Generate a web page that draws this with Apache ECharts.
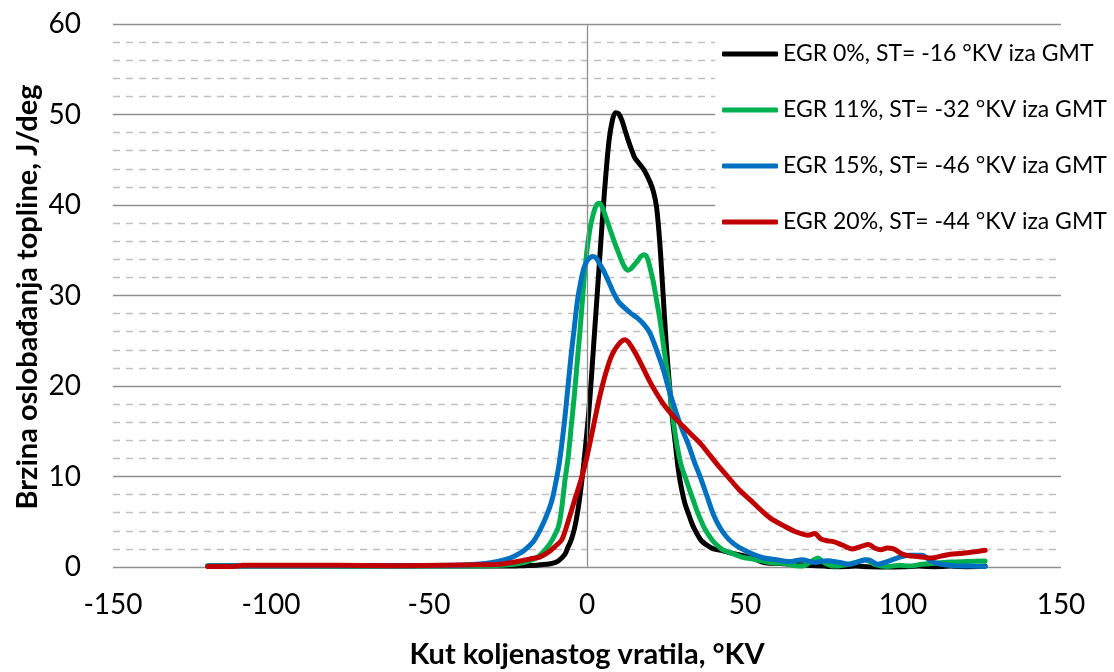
<!DOCTYPE html>
<html>
<head>
<meta charset="utf-8">
<script src="https://cdn.jsdelivr.net/npm/echarts@6/dist/echarts.min.js"></script>
<style>
html,body{margin:0;padding:0;background:#fff;}
#c{width:1114px;height:672px;}
</style>
</head>
<body>
<div id="c"></div>
<script>
// Series names (legend)
const seriesNames = [
  'EGR 0%, ST= -16 °KV iza GMT',
  'EGR 11%, ST= -32 °KV iza GMT',
  'EGR 15%, ST= -46 °KV iza GMT',
  'EGR 20%, ST= -44 °KV iza GMT'
];
const seriesColors = ['#000000', '#00b050', '#0070c0', '#c00000'];

// [crank angle °KV, heat release rate J/deg]
const egr0 = [[-120,0.1],[-100,0.1],[-80,0.1],[-60,0.1],[-40,0.1],[-30,0.1],[-25,0.1],[-20,0.15],[-16,0.2],[-13,0.3],[-11,0.4],[-9,0.7],[-7,1.4],[-6,2.2],[-5,3.0],[-4,4.2],[-3,6.0],[-2,8.5],[-1,11.5],[0,15],[1,19],[2,24],[3,29],[4,34],[5,39],[6,43.5],[7,47.2],[8,49.3],[9,50.2],[10,50.1],[11,49.4],[12,48.3],[13,47.2],[14,46.2],[15,45.3],[16,44.8],[18,43.9],[20,42.5],[21,41.5],[22,39.8],[23,36],[24,30.6],[25,25],[26,20.5],[27,16.5],[28,13.5],[29,10.5],[30,8.5],[31,7],[32,6],[33,5],[34,4.2],[36,3.0],[38,2.4],[40,2.0],[43,1.8],[46,1.5],[50,1.2],[53,0.9],[56,0.5],[60,0.4],[65,0.3],[70,0.2],[75,0.1],[80,0],[85,0.1],[90,0],[95,-0.1],[100,0],[105,0.1],[110,0],[115,0.1],[120,0],[126,0.1]];

const egr11 = [[-120,0.15],[-110,0.15],[-100,0.15],[-80,0.1],[-60,0.1],[-40,0.1],[-30,0.15],[-25,0.25],[-20,0.5],[-16,1.0],[-13,2.0],[-11,3.0],[-9,4.5],[-8,6.5],[-7,9.5],[-6,12],[-5,15.5],[-4,19],[-3,23],[-2,27],[-1,31.5],[0,35],[1,37.5],[2,39],[3,40],[4,40.2],[5,39.6],[6,38.6],[7,37.6],[8,36.6],[9,35.6],[10,34.7],[11,33.8],[12,33.1],[13,32.8],[14,33],[15,33.4],[16,33.8],[17,34.3],[18,34.5],[19,34.2],[20,33],[21,31.5],[22,29.5],[23,27.5],[24,25],[25,22.5],[26,20],[27,17],[28,14.5],[29,12.5],[30,11],[31,10],[32,9],[33,8],[34,7],[35,6],[36,5.2],[37,4.4],[38,3.8],[40,2.8],[43,1.9],[46,1.5],[49,1.1],[52,0.9],[55,0.7],[58,0.5],[62,0.4],[65,0.2],[68,0.1],[71,0.6],[73,1.0],[75,0.5],[78,0.1],[81,0.2],[85,0.5],[88,0.8],[91,0.3],[95,0.05],[99,0.2],[102,0.1],[106,0.3],[110,0.4],[115,0.55],[120,0.6],[126,0.65]];

const egr15 = [[-120,0.1],[-100,0.15],[-80,0.15],[-60,0.15],[-40,0.2],[-35,0.3],[-30,0.5],[-26,0.8],[-23,1.2],[-20,1.8],[-17,2.8],[-15,4],[-13,5.5],[-11,7.5],[-9,11],[-8,13.5],[-7,16.5],[-6,20],[-5,23.5],[-4,26.5],[-3,29.5],[-2,31.5],[-1,33],[0,33.8],[1,34.2],[2,34.3],[3,34.1],[4,33.5],[5,32.9],[6,32.2],[7,31.4],[8,30.6],[9,29.9],[10,29.3],[12,28.6],[14,28],[16,27.5],[18,26.8],[20,25.8],[22,24],[24,22],[26,19.5],[28,17.3],[30,15.3],[32,13.6],[34,11.6],[36,9.8],[38,7.8],[40,5.8],[42,4.4],[44,3.4],[46,2.7],[48,2.2],[52,1.5],[56,1.0],[60,0.8],[64,0.6],[68,0.8],[72,0.5],[76,0.7],[80,0.5],[83,0.3],[86,0.6],[89,0.8],[92,0.3],[95,0.6],[99,1.1],[102,1.3],[106,1.3],[109,0.6],[112,0.3],[116,0.15],[121,0.1],[126,0.05]];

const egr20 = [[-120,0.05],[-112,0.05],[-109,0.2],[-100,0.2],[-80,0.2],[-60,0.15],[-45,0.2],[-35,0.25],[-28,0.3],[-22,0.6],[-18,0.9],[-15,1.1],[-12,1.7],[-10,2.3],[-8,3.0],[-6,5.0],[-4,7.3],[-2,9.5],[0,12.2],[2,15.5],[4,18.8],[6,21.5],[8,23.5],[10,24.6],[12,25.1],[13,24.9],[14,24.4],[16,23.2],[18,21.8],[20,20.4],[22,19.2],[24,18.1],[26,17.2],[28,16.4],[30,15.7],[32,15.0],[34,14.3],[36,13.6],[39,12.3],[42,11],[45,9.8],[48,8.6],[52,7.3],[55,6.3],[58,5.4],[62,4.6],[66,3.9],[70,3.5],[72,3.7],[74,3.1],[76,2.9],[78,2.8],[81,2.4],[84,2.0],[87,2.3],[89,2.5],[91,2.1],[93,1.9],[95,2.1],[97,2.0],[100,1.4],[103,1.2],[106,1.1],[109,1.0],[112,1.2],[115,1.4],[118,1.5],[121,1.6],[124,1.75],[126,1.85]];

const seriesData = [egr0, egr11, egr15, egr20];

const xTitle = 'Kut koljenastog vratila, °KV';
const yTitle = 'Brzina oslobađanja topline, J/deg';

const FONT = 'Lato';
const chart = echarts.init(document.getElementById('c'), null, {renderer: 'canvas'});

const lineSeries = seriesData.map((d, i) => ({
  name: seriesNames[i],
  type: 'line',
  data: d,
  symbol: 'none',
  smooth: 0.3,
  z: 3 + i,
  lineStyle: {color: seriesColors[i], width: 5, cap: 'round', join: 'round'},
  itemStyle: {color: seriesColors[i]},
  emphasis: {disabled: true}
}));

lineSeries.unshift({
  name: 'axis0',
  type: 'line',
  data: [],
  z: 1,
  silent: true,
  markLine: {
    silent: true,
    symbol: 'none',
    label: {show: false},
    lineStyle: {color: '#8f8f8f', width: 1.3, type: 'solid'},
    data: [{xAxis: 0}]
  }
});

chart.setOption({
  animation: false,
  backgroundColor: '#ffffff',
  textStyle: {fontFamily: FONT},
  grid: {left: 113, right: 53, top: 24, bottom: 105, containLabel: false},
  xAxis: {
    type: 'value',
    min: -150, max: 150, interval: 50,
    axisLine: {show: false},
    axisTick: {show: false},
    splitLine: {show: false},
    axisLabel: {color: '#000', fontSize: 28, fontFamily: FONT, margin: 24}
  },
  yAxis: {
    type: 'value',
    min: 0, max: 60, interval: 10,
    axisLine: {show: false},
    axisTick: {show: false},
    axisLabel: {color: '#000', fontSize: 28, fontFamily: FONT, margin: 32},
    splitLine: {show: true, lineStyle: {color: '#8f8f8f', width: 1.3}},
    minorTick: {show: false, splitNumber: 5},
    minorSplitLine: {show: true, lineStyle: {color: '#c0c0c0', width: 1.3, type: [7, 6]}}
  },
  legend: {
    data: seriesNames,
    orient: 'vertical',
    left: 715, top: 30,
    padding: [12, 4, 12, 7],
    backgroundColor: '#ffffff',
    itemWidth: 56, itemHeight: 5,
    itemGap: 32,
    icon: 'roundRect',
    textStyle: {color: '#000', fontSize: 23, fontFamily: FONT, lineHeight: 24},
    selectedMode: false,
    z: 10
  },
  graphic: [
    {type: 'text', style: {text: xTitle, x: 587, y: 655, align: 'center', verticalAlign: 'middle', font: 'bold 29px ' + FONT, fill: '#000'}},
    {type: 'text', rotation: Math.PI / 2, x: 28, y: 297, style: {text: yTitle, x: 0, y: 0, align: 'center', verticalAlign: 'middle', font: 'bold 29px ' + FONT, fill: '#000'}}
  ],
  series: lineSeries
});
</script>
</body>
</html>
